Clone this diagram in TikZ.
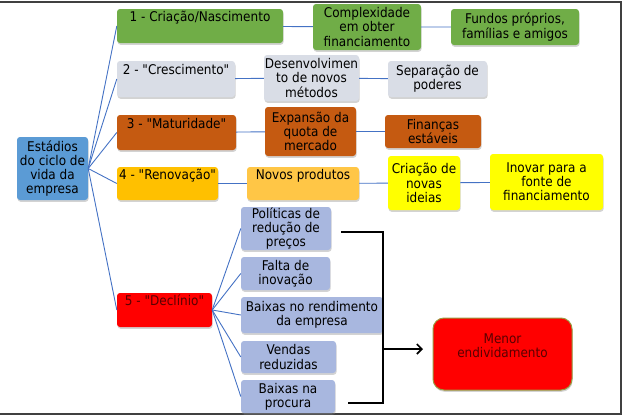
\documentclass[tikz,border=0pt]{standalone}
\usepackage{fontspec}
\setmainfont{DejaVu Sans Condensed}
\usetikzlibrary{shadows,arrows.meta}
\definecolor{rootblue}{HTML}{5B9BD5}
\definecolor{stgreen}{HTML}{70AD47}
\definecolor{stgray}{HTML}{D9DDE6}
\definecolor{stbrown}{HTML}{C55A11}
\definecolor{stgold}{HTML}{FFC000}
\definecolor{stlight}{HTML}{FFC646}
\definecolor{styellow}{HTML}{FFFF00}
\definecolor{stred}{HTML}{FF0000}
\definecolor{stlav}{HTML}{A8B7DF}
\definecolor{linkblue}{HTML}{4472C4}
\definecolor{olive}{HTML}{9A9A40}
\definecolor{darkred}{HTML}{5A0000}
\newcommand{\q}[1]{\textquotedbl#1\textquotedbl}
\begin{document}
\begin{tikzpicture}[x=1pt, y=-1pt,
	box/.style={rounded corners=3pt, align=center, inner sep=0pt,
		font=\fontsize{13.4}{14.2}\selectfont,
		drop shadow={opacity=0.35, shadow xshift=0.6pt, shadow yshift=-1.8pt}},
	raised/.style={text height=10pt, text depth=#1},
	raised/.default=19pt,
	link/.style={draw=linkblue, line width=0.9pt},
	brace/.style={draw=black, line width=1.6pt}]
\useasboundingbox (0,0) rectangle (624,418);
	% frame
	\draw[black!75, line width=1.2pt] (0,2) -- (621,2) -- (621,414) -- (0,414);
	% root
	\node[box, fill=rootblue, minimum width=71pt, minimum height=63pt] (root) at (52.5,168.5) {Estádios\\do ciclo de\\vida da\\empresa};
	% stages
	\node[box, raised, fill=stgreen, minimum width=166pt, minimum height=34pt] (s1) at (200,26) {1 - Criação/Nascimento};
	\node[box, raised, fill=stgray, minimum width=118pt, minimum height=36pt] (s2) at (176,79) {2 - \q{Crescimento}};
	\node[box, raised, fill=stbrown, minimum width=119pt, minimum height=35pt] (s3) at (176.5,132.5) {3 - \q{Maturidade}};
	\node[box, raised, fill=stgold, minimum width=101pt, minimum height=33pt] (s4) at (167.5,183.5) {4 - \q{Renovação}};
	\node[box, raised, fill=stred, minimum width=95pt, minimum height=34pt, text=darkred] (s5) at (164.5,310) {5 - \q{Declínio}};
	% second and third columns
	\node[box, fill=stgreen, minimum width=108pt, minimum height=46pt] (c1a) at (367,27) {Complexidade\\em obter\\financiamento};
	\node[box, fill=stgreen, minimum width=128pt, minimum height=36pt] (c1b) at (515,27) {Fundos próprios,\\famílias e amigos};
	\node[box, fill=stgray, minimum width=95pt, minimum height=46pt] (c2a) at (311.5,78) {Desenvolvimen\\to de novos\\métodos};
	\node[box, fill=stgray, minimum width=99pt, minimum height=36pt] (c2b) at (437.5,79) {Separação de\\poderes};
	\node[box, fill=stbrown, minimum width=91pt, minimum height=49pt] (c3a) at (310.5,131.5) {Expansão da\\quota de\\mercado};
	\node[box, fill=stbrown, minimum width=96pt, minimum height=33pt] (c3b) at (433,131.5) {Finanças\\estáveis};
	\node[box, raised, fill=stlight, minimum width=112pt, minimum height=33pt] (c4a) at (303,183.5) {Novos produtos};
	\node[box, fill=styellow, minimum width=72pt, minimum height=54pt] (c4b) at (424,183) {Criação de\\novas\\ideias};
	\node[box, fill=styellow, minimum width=113pt, minimum height=56pt] (c4c) at (546.5,182) {Inovar para a\\fonte de\\financiamento};
	% decline causes
	\node[box, fill=stlav, minimum width=90pt, minimum height=43pt] (d1) at (286,228.5) {Políticas de\\redução de\\preços};
	\node[box, fill=stlav, minimum width=89pt, minimum height=33pt] (d2) at (285.5,273.5) {Falta de\\inovação};
	\node[box, fill=stlav, minimum width=142pt, minimum height=36pt] (d3) at (312,315) {Baixas no rendimento\\da empresa};
	\node[box, fill=stlav, minimum width=95pt, minimum height=32pt] (d4) at (288.5,357) {Vendas\\reduzidas};
	\node[box, fill=stlav, minimum width=94pt, minimum height=33pt] (d5) at (288,396.5) {Baixas na\\procura};
	\node[box, fill=stred, draw=olive, line width=1pt, rounded corners=11pt, text=darkred,
		minimum width=139pt, minimum height=72pt] (res) at (502.5,354) {Menor\\endividamento\rule[-16pt]{0pt}{0pt}};
	% links
	\foreach \s in {s1,s2,s3,s4,s5}
		\draw[link] (root.east) -- (\s.west);
	\foreach \d in {d1,d2,d3,d4,d5}
		\draw[link] (s5.east) -- (\d.west);
	\draw[link] (s1) -- (c1a) -- (c1b);
	\draw[link] (s2) -- (c2a) -- (c2b);
	\draw[link] (s3) -- (c3a) -- (c3b);
	\draw[link] (s4) -- (c4a) -- (c4b) -- (c4c);
	% bracket and arrow
	\coordinate (bt) at (383,232);
	\coordinate (bb) at (383,403);
	\coordinate (bm) at (383,349);
	\draw[brace] (341,232) -- (bt) -- (bb) -- (348,403);
	\draw[brace, -{Straight Barb[length=5pt,width=10pt]}] (bm) -- (423,349);
\end{tikzpicture}
\end{document}
